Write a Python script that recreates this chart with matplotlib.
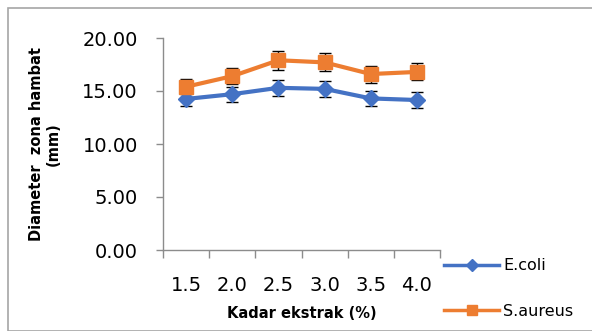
import matplotlib
matplotlib.use("Agg")
import matplotlib.pyplot as plt
from matplotlib.patches import Rectangle
from matplotlib.lines import Line2D

categories = ["1.5", "2.0", "2.5", "3.0", "3.5", "4.0"]
ecoli = [14.25, 14.7, 15.3, 15.2, 14.3, 14.15]
ecoli_err = [0.65, 0.7, 0.75, 0.75, 0.7, 0.75]
saureus = [15.4, 16.4, 17.9, 17.7, 16.6, 16.8]
saureus_err = [0.7, 0.75, 0.9, 0.85, 0.8, 0.8]
yticks = [0, 5, 10, 15, 20]

plt.rcParams['font.family'] = ['DejaVu Sans']

W, H = 592, 331
fig = plt.figure(figsize=(W/100, H/100), dpi=100)
ax = fig.add_axes([163/W, 1-250/H, (440-163)/W, (250-38)/H])

x = list(range(1, len(categories)+1))
blue = "#4472C4"
orange = "#ED7D31"
ax.errorbar(x, ecoli, yerr=ecoli_err, fmt="none", ecolor="black", elinewidth=1,
            capsize=4, capthick=1, zorder=2)
ax.errorbar(x, saureus, yerr=saureus_err, fmt="none", ecolor="black", elinewidth=1,
            capsize=4, capthick=1, zorder=2)
ax.plot(x, ecoli, color=blue, marker="D", markersize=8.5, linewidth=3, zorder=3)
ax.plot(x, saureus, color=orange, marker="s", markersize=9.5, linewidth=3, zorder=3)

ax.set_xlim(0.5, len(categories)+0.5)
ax.set_ylim(0, 20)
ax.set_yticks(yticks)
ax.set_yticklabels([f"{v:.2f}" for v in yticks], fontsize=14)
ax.set_xticks([i+0.5 for i in range(len(categories)+1)])
ax.set_xticklabels([])
ax.set_xticks(x, minor=True)
ax.set_xticklabels(categories, minor=True, fontsize=14)
ax.tick_params(axis="x", which="major", length=6, color="#8c8c8c", width=1)
ax.tick_params(axis="x", which="minor", length=0, pad=19)
ax.tick_params(axis="y", length=5, color="#8c8c8c", width=1, pad=13)

for s in ["top", "right"]:
    ax.spines[s].set_visible(False)
for s in ["left", "bottom"]:
    ax.spines[s].set_color("#8c8c8c")
    ax.spines[s].set_linewidth(1)

fig.text(45/W, 1-144/H, "Diameter  zona hambat\n(mm)", rotation=90, ha="center",
         va="center", fontsize=10.5, fontweight="bold", multialignment="center",
         linespacing=1.1)
fig.text(302/W, 1-313/H, "Kadar ekstrak (%)", ha="center", va="center",
         fontsize=10.5, fontweight="bold")

h1 = Line2D([], [], color=blue, marker="D", markersize=6, linewidth=2.5)
h2 = Line2D([], [], color=orange, marker="s", markersize=7, linewidth=2.5)
fig.legend([h1, h2], ["E.coli", "S.aureus"], loc="upper left",
           bbox_to_anchor=(438/W, 1-252/H), frameon=False, fontsize=11.5,
           handlelength=3.4, labelspacing=1.9, handletextpad=0.3,
           borderaxespad=0)

fig.patches.append(Rectangle((8/W, 0), 1.0, 1-8/H, transform=fig.transFigure,
                             fill=False, edgecolor="#a6a6a6", linewidth=1.2))

fig.savefig("out.png", dpi=100)
